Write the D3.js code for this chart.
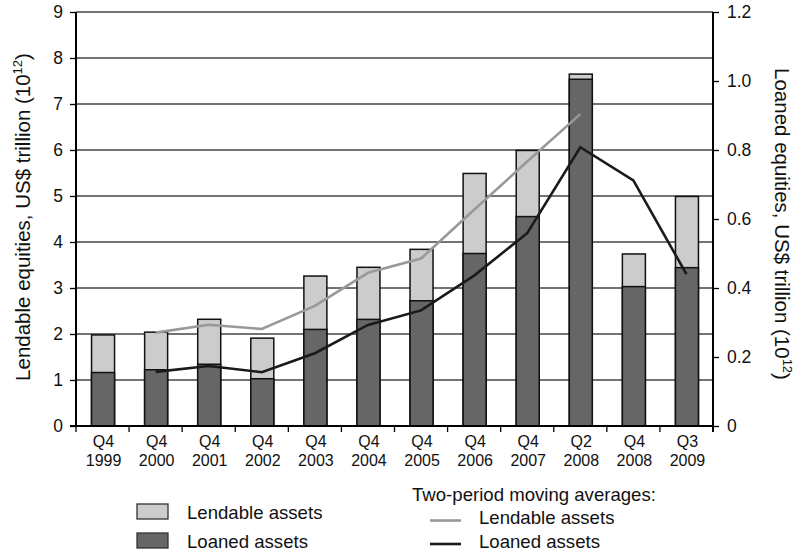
<!DOCTYPE html>
<html>
<head>
<meta charset="utf-8">
<script src="https://cdn.jsdelivr.net/npm/d3@7"></script>
<style>
  html, body { margin: 0; padding: 0; background: #fff; }
  svg { display: block; font-family: "Liberation Sans", Arial, sans-serif; }
</style>
</head>
<body>
<svg id="chart" width="800" height="553"></svg>
<script>
// ---- Data ----
const quarters = ["Q4","Q4","Q4","Q4","Q4","Q4","Q4","Q4","Q4","Q2","Q4","Q3"];
const years    = ["1999","2000","2001","2002","2003","2004","2005","2006","2007","2008","2008","2009"];
const categories = quarters.map((q, i) => q + " " + years[i]);
// Lendable assets, US$ trillion (left axis)
const lendable = [1.98, 2.04, 2.32, 1.91, 3.26, 3.45, 3.84, 5.49, 5.99, 7.65, 3.74, 4.99];
// Loaned assets, US$ trillion (right axis)
const loaned = [0.155, 0.163, 0.179, 0.137, 0.280, 0.309, 0.363, 0.500, 0.607, 1.005, 0.404, 0.459];
// Two-period moving averages
const lendableMA = [null, 2.03, 2.20, 2.11, 2.61, 3.33, 3.64, 4.70, 5.75, 6.78, null, null];
const loanedMA   = [null, 0.157, 0.174, 0.156, 0.211, 0.293, 0.335, 0.436, 0.559, 0.808, 0.712, 0.440];
const leftTicks  = [0,1,2,3,4,5,6,7,8,9];
const rightTicks = [0,0.2,0.4,0.6,0.8,1.0,1.2];

// ---- Layout ----
const svg = d3.select("#chart");
const X0 = 76, X1 = 713, Y0 = 426, Y1 = 12;

const x = d3.scaleBand().domain(categories).range([X0, X1]).paddingInner(0).paddingOuter(0);
const yL = d3.scaleLinear().domain([0, 9]).range([Y0, Y1]);
const yR = d3.scaleLinear().domain([0, 1.2]).range([Y0, Y1]);

// gridlines
svg.append("g").selectAll("line").data(leftTicks.filter(d => d > 0)).join("line")
  .attr("x1", X0).attr("x2", X1)
  .attr("y1", d => yL(d)).attr("y2", d => yL(d))
  .attr("stroke", "#444").attr("stroke-width", 1.3);

// bars
const barW = 23;
const bars = svg.append("g");
bars.selectAll("rect.lend").data(lendable).join("rect")
  .attr("class", "lend")
  .attr("x", (d, i) => x(categories[i]) + x.bandwidth() / 2 - barW / 2 + 0.5)
  .attr("width", barW)
  .attr("y", d => yL(d))
  .attr("height", d => Y0 - yL(d))
  .attr("fill", "#cccccc").attr("stroke", "#111").attr("stroke-width", 1.5);
bars.selectAll("rect.loan").data(loaned).join("rect")
  .attr("class", "loan")
  .attr("x", (d, i) => x(categories[i]) + x.bandwidth() / 2 - barW / 2 + 0.5)
  .attr("width", barW)
  .attr("y", d => yR(d))
  .attr("height", d => Y0 - yR(d))
  .attr("fill", "#666666").attr("stroke", "#111").attr("stroke-width", 1.5);

// moving average lines
const cx = i => x(categories[i]) + x.bandwidth() / 2;
const lineL = d3.line().defined(d => d != null).x((d, i) => cx(i)).y(d => yL(d));
const lineR = d3.line().defined(d => d != null).x((d, i) => cx(i)).y(d => yR(d));
svg.append("path").datum(lendableMA).attr("d", lineL)
  .attr("fill", "none").attr("stroke", "#999").attr("stroke-width", 2.6);
svg.append("path").datum(loanedMA).attr("d", lineR)
  .attr("fill", "none").attr("stroke", "#1a1a1a").attr("stroke-width", 2.6);

// left axis
const axL = svg.append("g").attr("transform", `translate(${X0},0)`)
  .call(d3.axisLeft(yL).tickValues(leftTicks).tickSize(6).tickPadding(7).tickFormat(d3.format("d")));
axL.select(".domain").attr("stroke", "#000").attr("stroke-width", 2).attr("d", `M0,${Y0}V${Y1}`);
axL.selectAll(".tick line").attr("stroke", "#000").attr("stroke-width", 1.3);
axL.selectAll(".tick text").attr("font-size", 17.5).attr("fill", "#111").attr("font-family", "Liberation Sans, Arial, sans-serif");

// right axis
const axR = svg.append("g").attr("transform", `translate(${X1},0)`)
  .call(d3.axisRight(yR).tickValues(rightTicks).tickSize(6).tickPadding(8)
    .tickFormat(d => d === 0 ? "0" : d3.format(".1f")(d)));
axR.select(".domain").attr("stroke", "#000").attr("stroke-width", 2).attr("d", `M0,${Y0 + 6}V${Y1}`);
axR.selectAll(".tick line").attr("stroke", "#000").attr("stroke-width", 1.3);
axR.selectAll(".tick text").attr("font-size", 17.5).attr("fill", "#111").attr("font-family", "Liberation Sans, Arial, sans-serif");

// bottom axis
const axB = svg.append("g").attr("transform", `translate(0,${Y0})`);
axB.append("line").attr("x1", X0 - 6).attr("x2", X1).attr("y1", 0).attr("y2", 0)
  .attr("stroke", "#000").attr("stroke-width", 2);
const bounds = categories.map(c => x(c)).concat([X1]);
axB.selectAll("line.tk").data(bounds).join("line").attr("class", "tk")
  .attr("x1", d => d).attr("x2", d => d).attr("y1", 0).attr("y2", 6)
  .attr("stroke", "#000").attr("stroke-width", 1.3);
axB.selectAll("text.q").data(categories).join("text").attr("class", "q")
  .attr("text-anchor", "middle").attr("font-size", 16).attr("fill", "#111")
  .attr("x", d => x(d) + x.bandwidth() / 2 + 1).attr("y", 21)
  .text((d, i) => quarters[i]);
axB.selectAll("text.yr").data(categories).join("text").attr("class", "yr")
  .attr("text-anchor", "middle").attr("font-size", 16).attr("fill", "#111")
  .attr("x", d => x(d) + x.bandwidth() / 2 + 1).attr("y", 40)
  .text((d, i) => years[i]);

// axis titles
const tL = svg.append("text").attr("transform", "translate(30,217) rotate(-90)")
  .attr("text-anchor", "middle").attr("font-size", 20.5).attr("fill", "#111");
tL.append("tspan").text("Lendable equities, US$ trillion (10");
tL.append("tspan").attr("font-size", 13).attr("dy", -8).text("12");
tL.append("tspan").attr("dy", 8).text(")");

const tR = svg.append("text").attr("transform", "translate(775,224) rotate(90)")
  .attr("text-anchor", "middle").attr("font-size", 20.5).attr("fill", "#111");
tR.append("tspan").text("Loaned equities, US$ trillion (10");
tR.append("tspan").attr("font-size", 13).attr("dy", -8).text("12");
tR.append("tspan").attr("dy", 8).text(")");

// legend
const lg = svg.append("g");
const fs = 18.6;
lg.append("rect").attr("x", 137).attr("y", 504).attr("width", 31).attr("height", 15)
  .attr("fill", "#cccccc").attr("stroke", "#333").attr("stroke-width", 1.3);
lg.append("rect").attr("x", 137).attr("y", 533).attr("width", 31).attr("height", 15)
  .attr("fill", "#666666").attr("stroke", "#333").attr("stroke-width", 1.3);
lg.append("text").attr("x", 187).attr("y", 519).attr("font-size", fs).attr("fill", "#111").text("Lendable assets");
lg.append("text").attr("x", 187).attr("y", 548).attr("font-size", fs).attr("fill", "#111").text("Loaned assets");
lg.append("text").attr("x", 412).attr("y", 501).attr("font-size", fs).attr("fill", "#111").text("Two-period moving averages:");
lg.append("line").attr("x1", 430).attr("x2", 461).attr("y1", 520.5).attr("y2", 520.5)
  .attr("stroke", "#999").attr("stroke-width", 2.6);
lg.append("line").attr("x1", 430).attr("x2", 461).attr("y1", 544).attr("y2", 544)
  .attr("stroke", "#1a1a1a").attr("stroke-width", 2.6);
lg.append("text").attr("x", 479).attr("y", 524).attr("font-size", fs).attr("fill", "#111").text("Lendable assets");
lg.append("text").attr("x", 479).attr("y", 548).attr("font-size", fs).attr("fill", "#111").text("Loaned assets");
</script>
</body>
</html>
